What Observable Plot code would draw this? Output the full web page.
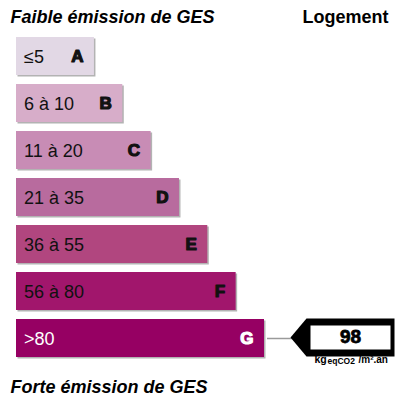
<!DOCTYPE html>
<html>
<head>
<meta charset="utf-8">
<script src="https://cdn.jsdelivr.net/npm/d3@7"></script>
<script src="https://cdn.jsdelivr.net/npm/@observablehq/plot@0.6"></script>
<style>
  html, body { margin: 0; padding: 0; background: #fff; }
  #chart svg { display: block; }
</style>
</head>
<body>
<div id="chart"></div>
<script>
// ---- data ----
const classes = ["A", "B", "C", "D", "E", "F", "G"];
const rangeLabels = ["≤5", "6 à 10", "11 à 20", "21 à 35", "36 à 55", "56 à 80", ">80"];
const upperBounds = [5, 10, 20, 35, 55, 80];
const barLengths = [1, 2, 3, 4, 5, 6, 7];
const barColors = ["#e2d8e5", "#d7adc9", "#c88cb5", "#b86b9e", "#b1467f", "#a1166c", "#960063"];
const labelColors = ["#111", "#111", "#111", "#111", "#111", "#111", "#fff"];
const gesValue = 98;
const unitMain = "kg";
const unitSub = "eqCO2";
const unitTail = "/m².an";
const titleTop = "Faible émission de GES";
const titleBottom = "Forte émission de GES";
const housingLabel = "Logement";

// ---- derived tables ----
const rows = classes.map((c, i) => ({
  cls: c, range: rangeLabels[i], len: barLengths[i], color: barColors[i], textColor: labelColors[i]
}));
const gesClass = classes[d3.bisectLeft(upperBounds, gesValue)];
const pointer = [{ cls: gesClass, value: String(gesValue), len: barLengths[classes.indexOf(gesClass)] }];
const xStart = -1.75;

// pointer shapes (drawn relative to the right frame edge and the band centre)
const pointerShape = { draw(ctx) {
  ctx.moveTo(-110, -1); ctx.lineTo(-94, -20); ctx.lineTo(-6, -20);
  ctx.lineTo(-6, 18); ctx.lineTo(-94, 18); ctx.closePath();
}};
const pointerWindow = { draw(ctx) {
  ctx.moveTo(-90, -13); ctx.lineTo(-10, -13); ctx.lineTo(-10, 11); ctx.lineTo(-90, 11); ctx.closePath();
}};

const font = "'Liberation Sans', Arial, sans-serif";

const chart = Plot.plot({
  width: 400,
  height: 400,
  margin: 0,
  style: { fontFamily: font, background: "#fff", overflow: "visible" },
  x: { domain: [xStart, 7], range: [16, 264], axis: null },
  y: { type: "band", domain: classes, range: [34, 360], paddingInner: 0.19, paddingOuter: 0, axis: null },
  color: { type: "identity" },
  marks: [
    // shadows
    Plot.barX(rows, { x1: () => xStart, x2: "len", y: "cls", fill: "#9a9a9a", fillOpacity: 0.75, dx: 1.5, dy: 1.5 }),
    // bars
    Plot.barX(rows, { x1: () => xStart, x2: "len", y: "cls", fill: "color" }),
    // range labels
    Plot.text(rows, { x: () => xStart, y: "cls", text: "range", dx: 7.5, dy: 0.5, textAnchor: "start",
      fontSize: 18, fill: "textColor" }),
    // class letters
    Plot.text(rows, { x: "len", y: "cls", text: "cls", dx: -11, dy: 0.5, textAnchor: "end",
      fontSize: 17, fontWeight: "bold", fill: "textColor", stroke: "textColor", strokeWidth: 1.2 }),
    // connector
    Plot.ruleY(pointer, { y: "cls", x1: "len", x2: "len", insetLeft: 3, insetRight: -32, stroke: "#9a9a9a", strokeWidth: 1.5 }),
    // pointer
    Plot.dot(pointer, { y: "cls", frameAnchor: "right", symbol: pointerShape, fill: "#000", stroke: "none" }),
    Plot.dot(pointer, { y: "cls", frameAnchor: "right", symbol: pointerWindow, fill: "#fff", stroke: "none" }),
    Plot.text(pointer, { y: "cls", frameAnchor: "right", text: "value", dx: -50, dy: -1.5, textAnchor: "middle",
      fontSize: 19, fontWeight: "bold", fill: "#000", stroke: "#000", strokeWidth: 0.8 }),
    // unit
    Plot.text(pointer, { y: "cls", frameAnchor: "right", text: () => unitMain, dx: -86, dy: 24, lineAnchor: "bottom",
      textAnchor: "start", fontSize: 10.5, fontWeight: "bold", fill: "#000" }),
    Plot.text(pointer, { y: "cls", frameAnchor: "right", text: () => unitSub, dx: -73, dy: 25.5, lineAnchor: "bottom",
      textAnchor: "start", fontSize: 8.5, fontWeight: "bold", fill: "#000" }),
    Plot.text(pointer, { y: "cls", frameAnchor: "right", text: () => unitTail, dx: -42, dy: 24, lineAnchor: "bottom",
      textAnchor: "start", fontSize: 10, fontWeight: "bold", fill: "#000" }),
    // titles
    Plot.text([titleTop], { frameAnchor: "top-left", text: d => d, dx: 10, dy: 22, lineAnchor: "bottom",
      textAnchor: "start", fontSize: 18, fontWeight: "bold", fontStyle: "italic", fill: "#000" }),
    Plot.text([housingLabel], { frameAnchor: "top-right", text: d => d, dx: -12, dy: 22, lineAnchor: "bottom",
      textAnchor: "end", fontSize: 18, fontWeight: "bold", fill: "#000" }),
    Plot.text([titleBottom], { frameAnchor: "top-left", text: d => d, dx: 10, dy: 392, lineAnchor: "bottom",
      textAnchor: "start", fontSize: 18, fontWeight: "bold", fontStyle: "italic", fill: "#000" })
  ]
});
document.getElementById("chart").appendChild(chart);
</script>
</body>
</html>
